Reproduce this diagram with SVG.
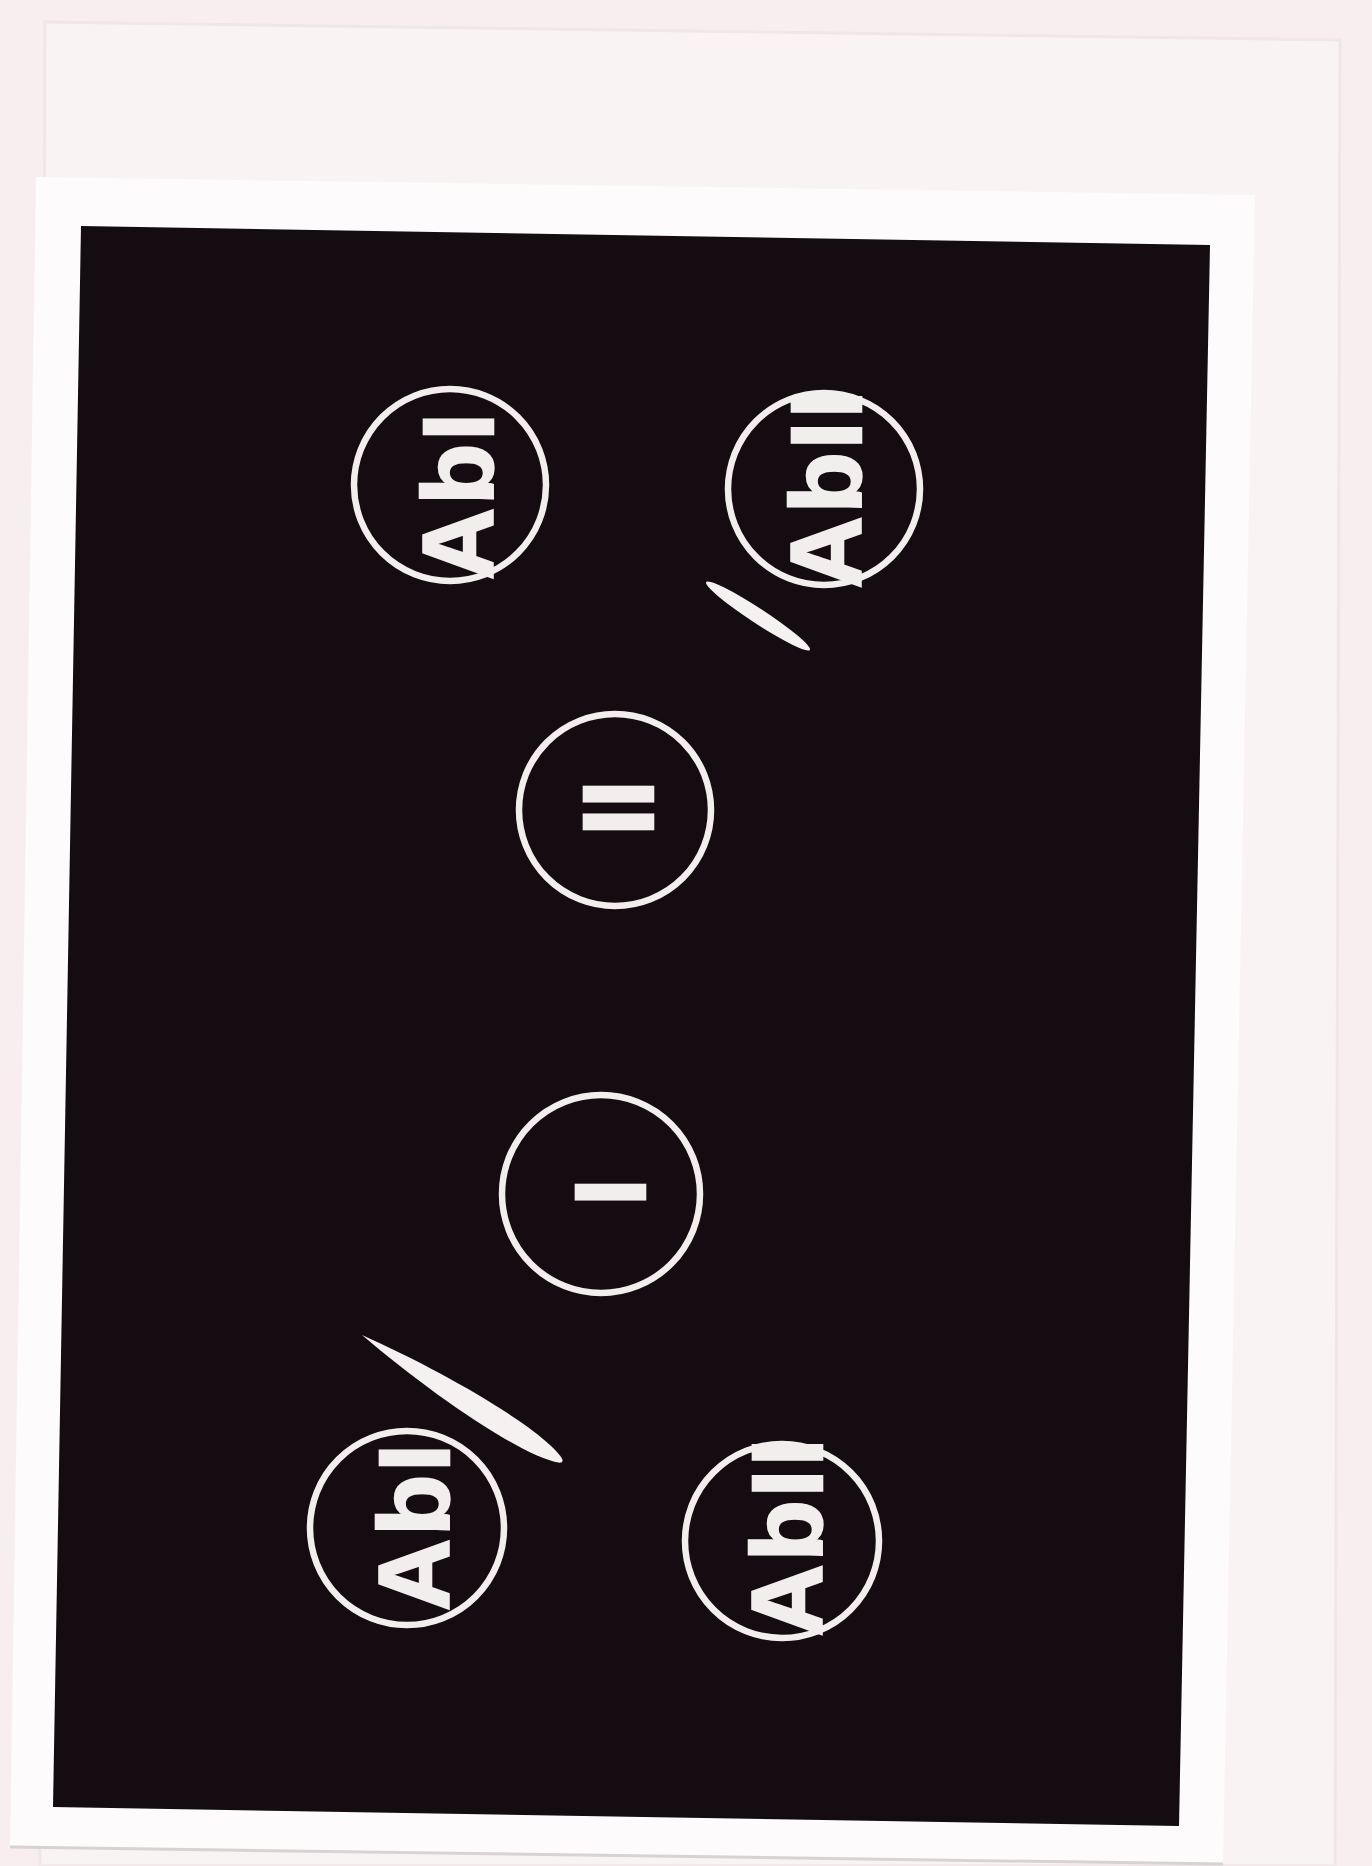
<svg xmlns="http://www.w3.org/2000/svg" width="1372" height="1866" viewBox="0 0 1372 1866">
  <style>
    .ring { fill: none; stroke: #f3eeee; stroke-width: 6.5; }
    .lbl { font-family: "Liberation Sans", Arial, sans-serif; font-weight: bold; font-size: 100px; fill: #f3eeee; stroke: #f3eeee; stroke-width: 2.5; text-anchor: middle; }
    .wide { letter-spacing: 3px; }
    .lens { fill: #f5f1f1; }
  </style>
  <rect x="0" y="0" width="1372" height="1866" fill="#f8eef0"/>
  <polygon points="45,22 1340,40 1335,1866 40,1866" fill="#faf3f4" stroke="#f0e6e8" stroke-width="3"/>
  <polygon points="36,177 1255,195 1223,1863 10,1846" fill="#fdfbfb"/>
  <line x1="10" y1="1847" x2="1223" y2="1864" stroke="#d9d2d2" stroke-width="3"/>
  <polygon points="81,226 1210,245 1179,1826 53,1807" fill="#140c10"/>

  <g id="node-abi-top">
    <circle class="ring" cx="450" cy="485" r="96"/>
    <text class="lbl wide" transform="translate(493,495) rotate(-90)">AbI</text>
  </g>
  <g id="node-abii-top">
    <circle class="ring" cx="824" cy="489" r="96"/>
    <text class="lbl wide" transform="translate(861,488) rotate(-90)">AbII</text>
  </g>
  <g id="node-ii">
    <circle class="ring" cx="615" cy="810" r="96"/>
    <text class="lbl" transform="translate(653,808) rotate(-90)">II</text>
  </g>
  <g id="node-i">
    <circle class="ring" cx="601" cy="1194" r="99"/>
    <text class="lbl" transform="translate(645,1192) rotate(-90)">I</text>
  </g>
  <g id="node-abi-bottom">
    <circle class="ring" cx="407" cy="1528" r="97"/>
    <text class="lbl wide" transform="translate(449,1526) rotate(-90)">AbI</text>
  </g>
  <g id="node-abii-bottom">
    <circle class="ring" cx="782" cy="1541" r="97"/>
    <text class="lbl wide" transform="translate(822,1536) rotate(-90)">AbII</text>
  </g>

  <g id="connectors">
    <ellipse class="lens" cx="758" cy="616" rx="62" ry="7.5" transform="rotate(33.2 758 616)"/>
    <path class="lens" transform="translate(362,1335) rotate(32.3)" d="M0,0 C90,-13 200,-17 234,-3 Q240,0 234,3 C200,17 90,13 0,0 Z"/>
  </g>
</svg>
